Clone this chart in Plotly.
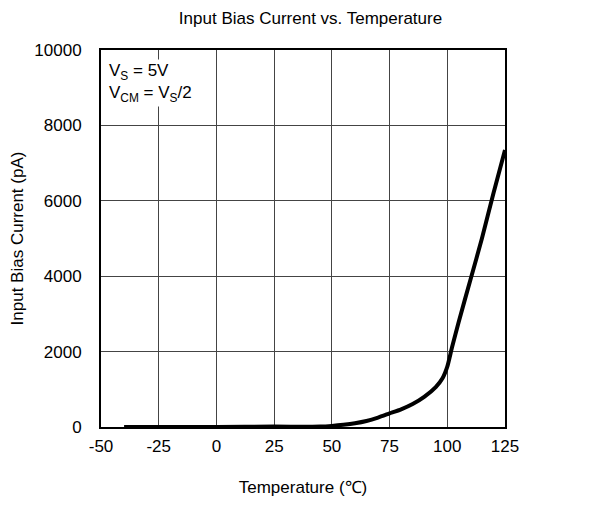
import plotly.graph_objects as go

temperature = [-40, -25, 0, 25, 40, 45, 50, 55, 60, 65, 70, 75, 80, 85, 90, 95, 98, 100,
               102, 105, 110, 115, 120, 125]
bias_current = [0, 0, 0, 10, 5, 10, 30, 60, 100, 160, 250, 360, 470, 610, 800, 1060, 1300, 1600,
                2100, 2800, 3900, 5000, 6200, 7350]

x_ticks = [-50, -25, 0, 25, 50, 75, 100, 125]
x_labels = ["-50", "-25", "0", "25", "50", "75", "100", "125"]
y_ticks = [0, 2000, 4000, 6000, 8000, 10000]
y_labels = ["0", "2000", "4000", "6000", "8000", "10000"]

FONT = "Liberation Sans, Arial, sans-serif"

fig = go.Figure(
    go.Scatter(
        x=temperature,
        y=bias_current,
        mode="lines",
        line={"color": "black", "width": 4, "shape": "spline", "smoothing": 0.6},
        showlegend=False,
    )
)

axis_style = {
    "showgrid": True,
    "gridcolor": "#444444",
    "gridwidth": 1,
    "showline": True,
    "linecolor": "black",
    "linewidth": 2,
    "mirror": True,
    "zeroline": False,
    "ticks": "",
    "automargin": False,
    "tickfont": {"size": 17, "color": "black"},
}

fig.update_xaxes(
    range=[-50, 125],
    tickvals=x_ticks,
    ticktext=x_labels,
    ticklabelstandoff=3,
    title={"text": "Temperature (℃)", "font": {"size": 17, "color": "black"}, "standoff": 26},
    **axis_style,
)
fig.update_yaxes(
    range=[0, 10000],
    tickvals=y_ticks,
    ticktext=y_labels,
    ticklabelstandoff=14,
    title={"text": "Input Bias Current (pA)", "font": {"size": 17, "color": "black"}, "standoff": 21},
    **axis_style,
)

fig.add_annotation(
    x=0.015, y=0.977, xref="paper", yref="paper",
    xanchor="left", yanchor="top", align="left", showarrow=False,
    text="V<sub>S</sub> = 5V<br>V<sub>CM</sub> = V<sub>S</sub>/2",
    font={"size": 17, "color": "black"},
    bgcolor="white",
)

fig.update_layout(
    width=605,
    height=501,
    template="plotly_white",
    plot_bgcolor="white",
    paper_bgcolor="white",
    font={"family": FONT, "color": "black"},
    title={"text": "Input Bias Current vs. Temperature", "x": 0.5, "xanchor": "center",
           "y": 0.98, "yanchor": "middle", "font": {"size": 17, "color": "black"}},
    margin={"l": 93, "r": 108, "t": 42, "b": 82},
)

fig.write_html("out.html")
